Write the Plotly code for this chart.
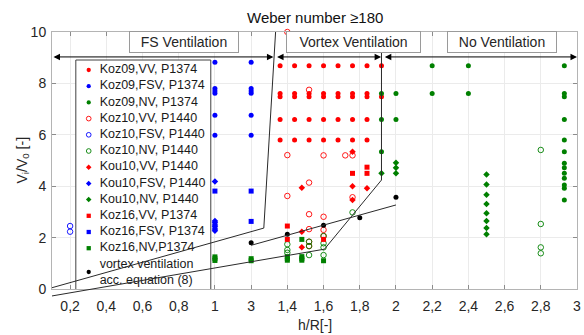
import plotly.graph_objects as go

# ---------------- axis ticks ----------------
x_tickvals = [0.2, 0.4, 0.6, 0.8, 1.0, 1.2, 1.4, 1.6, 1.8, 2.0, 2.2, 2.4, 2.6, 2.8, 3.0]
x_ticktext = ["0,2", "0,4", "0,6", "0,8", "1", "3", "1,4", "1,6", "1,8", "2",
              "2,2", "2,4", "2,6", "2,8", "3"]
y_tickvals = [0, 2, 4, 6, 8, 10]
X_RANGE = [0.1, 3.0]
Y_RANGE = [0, 10]

# ---------------- measurement series (h/R, Vi/V0) ----------------
koz09_vv_x = [1.36, 1.44, 1.52, 1.60, 1.68, 1.76, 1.84, 1.92,
              1.36, 1.44, 1.52, 1.60, 1.68, 1.76, 1.84, 1.92,
              1.36, 1.44, 1.52, 1.60, 1.68, 1.76, 1.84,
              1.36, 1.44, 1.52, 1.60, 1.68, 1.76, 1.84,
              1.36, 1.44, 1.52, 1.60, 1.68, 1.76, 1.84]
koz09_vv_y = [8.69, 8.69, 8.69, 8.69, 8.69, 8.69, 8.69, 8.69,
              7.48, 7.48, 7.48, 7.48, 7.48, 7.48, 7.48, 7.48,
              7.61, 7.61, 7.61, 7.61, 7.61, 7.61, 7.61,
              6.60, 6.60, 6.60, 6.60, 6.60, 6.60, 6.60,
              5.80, 5.80, 5.80, 5.80, 5.80, 5.80, 5.80]

koz09_fsv_x = [1.0, 1.0, 1.0, 1.0, 1.0, 1.0, 1.2, 1.2, 1.2, 1.2, 1.2, 1.2]
koz09_fsv_y = [8.82, 7.80, 7.70, 7.62, 6.76, 5.98, 8.82, 7.80, 7.70, 7.62, 6.76, 5.98]

koz09_nv_x = [1.92, 1.92, 1.92, 2.0, 2.0, 2.2, 2.2, 2.4, 2.4,
              2.93, 2.93, 2.93, 2.93, 2.93, 2.93, 2.93, 2.93, 2.93, 2.93, 2.93, 2.93, 2.93]
koz09_nv_y = [7.61, 6.60, 5.34, 7.61, 6.60, 8.69, 7.61, 8.69, 7.61,
              8.69, 7.61, 7.48, 6.60, 5.80, 5.34, 4.89, 4.72, 4.50, 4.31, 4.05, 3.92, 3.46]

koz10_vv_x = [1.4, 1.52, 1.4, 1.6, 1.72, 1.76, 1.52, 1.4, 1.76, 1.52, 1.6, 1.52, 1.6, 1.52, 1.6, 1.52]
koz10_vv_y = [10.0, 7.75, 5.21, 5.20, 5.20, 5.20, 4.14, 3.62, 3.57, 2.91, 2.81, 2.33, 2.30, 1.84, 2.06, 1.67]

koz10_fsv_x = [0.2, 0.2]
koz10_fsv_y = [2.45, 2.23]

koz10_nv_x = [1.4, 1.4, 1.4, 1.52, 1.52, 1.52, 1.6, 1.6, 1.6, 1.6, 1.76, 2.8, 2.8, 2.8, 2.8]
koz10_nv_y = [1.74, 1.52, 1.41, 1.84, 1.67, 1.32, 2.06, 1.78, 1.62, 1.32, 2.98, 5.41, 2.53, 1.62, 1.39]

kou10_vv_x = [1.48, 1.48, 1.48, 1.76, 1.76, 1.76, 1.84]
kou10_vv_y = [3.94, 2.23, 1.62, 5.34, 4.00, 3.46, 3.92]

kou10_fsv_x = [1.0, 1.0, 1.0, 1.0, 1.0, 1.0, 1.0]
kou10_fsv_y = [4.18, 2.65, 2.58, 2.49, 2.42, 2.33, 2.27]

kou10_nv_x = [1.92, 2.0, 2.0, 2.0, 2.5, 2.5, 2.5, 2.5, 2.5, 2.5, 2.5, 2.5]
kou10_nv_y = [4.50, 4.91, 4.72, 4.50, 4.46, 4.07, 3.67, 3.31, 2.95, 2.65, 2.37, 2.13]

koz16_vv_x = [1.4, 1.4, 1.6, 1.76, 1.84, 1.84]
koz16_vv_y = [2.45, 1.93, 1.93, 4.50, 4.74, 4.50]

koz16_fsv_x = [1.0, 1.2, 1.2]
koz16_fsv_y = [3.81, 3.81, 2.63]

koz16_nv_x = [1.0, 1.0, 1.0, 1.2, 1.2, 1.4, 1.4, 1.4, 1.48, 1.48, 1.48, 1.48, 1.6]
koz16_nv_y = [1.25, 1.18, 1.11, 1.18, 1.10, 1.26, 1.18, 1.12, 1.93, 1.26, 1.18, 1.12, 1.10]

eq8_pts_x = [1.2, 1.4, 1.6, 1.8, 2.0]
eq8_pts_y = [1.80, 2.13, 2.48, 2.77, 3.57]

# ---------------- regime boundaries and equation (8) line ----------------
fs_bound_x = [0.1, 1.27, 1.335]
fs_bound_y = [0.05, 2.37, 10.0]
vv_bound_x = [0.1, 1.605, 1.92, 1.92]
vv_bound_y = [-0.27, 1.55, 4.24, 10.0]
eq8_line_x = [1.2, 2.0]
eq8_line_y = [1.70, 3.27]

# regime arrows (start, end) at V/V0 level, and their captions
regime_arrows = [(0.1, 1.323), (1.335, 1.918), (1.93, 3.0)]
arrow_level = 9.03
regime_labels = ["FS Ventilation", "Vortex Ventilation", "No Ventilation"]
regime_label_x = [0.827, 1.767, 2.586]
regime_label_w = [104, 129, 104]
regime_label_y = 9.6

RED, BLUE, GREEN, BLACK = "#ff0000", "#0000ff", "#008000", "#000000"
FONT = "Liberation Sans, Arial, sans-serif"
TXT = "#262626"

series = [
    ("Koz09,VV, P1374", koz09_vv_x, koz09_vv_y, "circle", RED),
    ("Koz09,FSV, P1374", koz09_fsv_x, koz09_fsv_y, "circle", BLUE),
    ("Koz09,NV, P1374", koz09_nv_x, koz09_nv_y, "circle", GREEN),
    ("Koz10,VV, P1440", koz10_vv_x, koz10_vv_y, "circle-open", RED),
    ("Koz10,FSV, P1440", koz10_fsv_x, koz10_fsv_y, "circle-open", BLUE),
    ("Koz10,NV, P1440", koz10_nv_x, koz10_nv_y, "circle-open", GREEN),
    ("Kou10,VV, P1440", kou10_vv_x, kou10_vv_y, "diamond", RED),
    ("Kou10,FSV, P1440", kou10_fsv_x, kou10_fsv_y, "diamond", BLUE),
    ("Kou10,NV, P1440", kou10_nv_x, kou10_nv_y, "diamond", GREEN),
    ("Koz16,VV, P1374", koz16_vv_x, koz16_vv_y, "square", RED),
    ("Koz16,FSV, P1374", koz16_fsv_x, koz16_fsv_y, "square", BLUE),
    ("Koz16,NV,P1374", koz16_nv_x, koz16_nv_y, "square", GREEN),
    ("vortex ventilation<br>acc. equation (8)", eq8_pts_x, eq8_pts_y, "circle", BLACK),
]

SIZES = {"circle": 5, "circle-open": 5.5, "diamond": 5, "square": 5}


def marker(symbol, color, scale=1.0):
    m = dict(symbol=symbol, size=SIZES[symbol] * scale, color=color)
    m["line"] = dict(width=0.9, color=color) if symbol.endswith("open") else dict(width=0)
    return m


fig = go.Figure()
for name, xs, ys, sym, col in series:
    fig.add_trace(go.Scatter(x=xs, y=ys, mode="markers", name=name, marker=marker(sym, col),
                             cliponaxis=False, showlegend=False, hoverinfo="x+y+name"))

# ---------------- hand-built legend on a pixel-scaled overlay subplot ----------------
leg_rows = [70 + 16.2 * i for i in range(12)] + [272]
leg_text_rows = leg_rows[:12] + [273]
for (name, xs, ys, sym, col), ry in zip(series, leg_rows):
    fig.add_trace(go.Scatter(x=[89], y=[ry], xaxis="x2", yaxis="y2", mode="markers",
                             marker=marker(sym, col, 0.85), cliponaxis=False,
                             showlegend=False, hoverinfo="skip"))
fig.add_trace(go.Scatter(x=[100] * len(series), y=leg_text_rows, xaxis="x2", yaxis="y2",
                         mode="text", text=[s[0] for s in series], textposition="middle right",
                         textfont=dict(family=FONT, size=12.5, color="#1a1a1a"),
                         cliponaxis=False, showlegend=False, hoverinfo="skip"))

shapes = [dict(type="rect", xref="x2", yref="y2", x0=76, x1=212, y0=60, y1=290,
               fillcolor="white", line=dict(color="#404040", width=1), layer="below")]


def to_paper(v):
    return (v - Y_RANGE[0]) / (Y_RANGE[1] - Y_RANGE[0])


def polyline(xs, ys):
    return "M" + "L".join(f"{x},{to_paper(y)}" for x, y in zip(xs, ys))


for xs, ys in [(fs_bound_x, fs_bound_y), (vv_bound_x, vv_bound_y), (eq8_line_x, eq8_line_y)]:
    shapes.append(dict(type="path", xref="x", yref="paper", path=polyline(xs, ys),
                       line=dict(color="#2a2a2a", width=1), layer="above"))

annotations = []
for x0, x1 in regime_arrows:
    annotations.append(dict(x=x1, y=arrow_level, ax=x0, ay=arrow_level, xref="x", yref="y",
                            axref="x", ayref="y", text="", showarrow=True,
                            arrowside="end+start", arrowhead=2, startarrowhead=2,
                            arrowsize=1.3, startarrowsize=1.3, arrowwidth=1,
                            arrowcolor="black", standoff=0, startstandoff=0))
for lab, lx, lw in zip(regime_labels, regime_label_x, regime_label_w):
    annotations.append(dict(x=lx, y=regime_label_y, xref="x", yref="y", text=lab,
                            showarrow=False, width=lw, height=16, borderpad=2,
                            bgcolor="white", bordercolor="#9a9a9a", borderwidth=1,
                            font=dict(family=FONT, size=14, color=TXT)))
annotations.append(dict(x=0.5, y=1, xref="paper", yref="paper", yanchor="bottom", yshift=4,
                        text="Weber number \u2265180", showarrow=False,
                        font=dict(family=FONT, size=15, color="#111111")))
annotations.append(dict(x=0.5, y=0, xref="paper", yref="paper", yanchor="top", yshift=-26,
                        text="h/R[-]", showarrow=False,
                        font=dict(family=FONT, size=14, color=TXT)))
annotations.append(dict(x=0, y=0.5, xref="paper", yref="paper", xanchor="center",
                        yanchor="middle", xshift=-30, textangle=-90,
                        text="V<sub>i</sub>/V<sub>0</sub> [-]", showarrow=False,
                        font=dict(family=FONT, size=14, color=TXT)))

axis_common = dict(showgrid=True, gridcolor="#ebebeb", gridwidth=1, zeroline=False,
                   showline=True, linecolor="#b4b4b4", linewidth=1, mirror="ticks",
                   ticks="inside", ticklen=4, tickcolor="#8c8c8c", tickwidth=1,
                   ticklabeloverflow="allow",
                   tickfont=dict(family=FONT, size=14, color=TXT), fixedrange=True)
hidden = dict(showgrid=False, zeroline=False, showline=False, showticklabels=False,
              ticks="", fixedrange=True)

fig.update_layout(
    width=584, height=335,
    margin=dict(l=52, r=3, t=32, b=46, pad=0),
    paper_bgcolor="white", plot_bgcolor="rgba(0,0,0,0)",
    font=dict(family=FONT, color=TXT),
    xaxis=dict(range=X_RANGE, tickmode="array", tickvals=x_tickvals, ticktext=x_ticktext,
               ticklabelstandoff=4, **axis_common),
    yaxis=dict(range=Y_RANGE, tickmode="array", tickvals=y_tickvals,
               ticklabelstandoff=2, **axis_common),
    xaxis2=dict(range=[52, 581], domain=[0, 1], anchor="y2", **hidden),
    yaxis2=dict(range=[289, 32], domain=[0, 1], anchor="x2", **hidden),
    shapes=shapes,
    annotations=annotations,
    showlegend=False,
)

fig.write_html("out.html")
